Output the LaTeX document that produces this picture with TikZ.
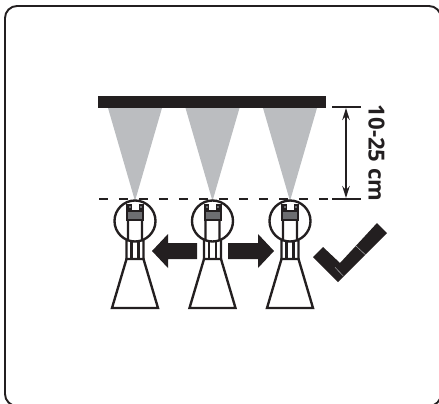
\documentclass[tikz,border=0pt]{standalone}
\usepackage{fontspec}
\setmainfont{Open Sans}
\usetikzlibrary{arrows.meta}
\definecolor{inkblack}{HTML}{231F20}
\definecolor{spraygray}{HTML}{BBBDC0}
\definecolor{capgray}{HTML}{6D6E71}
\begin{document}
\begin{tikzpicture}[
        x=0.02cm, y=-0.02cm,
        frameline/.style={draw=inkblack, line width=1.1pt, rounded corners=0.24cm},
        spray/.style={fill=spraygray},
        solidblack/.style={fill=inkblack},
        nozzleline/.style={draw=inkblack, line width=1.35pt},
        thinline/.style={draw=inkblack, line width=0.8pt},
        label/.style={font=\bfseries\fontsize{12.6}{14}\selectfont, text=inkblack, inner sep=0pt},
        dimarrow/.style={draw=inkblack, line width=0.8pt, {Stealth[length=0.24cm, width=0.15cm]}-{Stealth[length=0.24cm, width=0.15cm]}},
        nozzle/.pic={
            % Flask and stem
            \draw[nozzleline, line join=miter] (-8.5,259) -- (-23,308) -- (23,308) -- (8.5,259) -- cycle;
            \draw[nozzleline] (-8.5,259) -- (-8.5,241) -- (-7,239) -- (-7,220);
            \draw[nozzleline] (8.5,259) -- (8.5,241) -- (7,239) -- (7,220);
            \draw[nozzleline] (-3.6,259) -- (-3.6,240) (3.6,259) -- (3.6,240);
            % Head
            \draw[nozzleline] (0,221) circle[radius=20.5];
            \fill[solidblack] (-9,204) rectangle (9,221);
            \fill[white] (-3.5,203) rectangle (3.5,210);
            \fill[capgray] (-7,212) rectangle (7,218.5);
            \fill[capgray] (-6.5,206) rectangle (-4.5,208);
            \fill[capgray] (4.5,206) rectangle (6.5,208);
        },
    ]
        \useasboundingbox (0,0) rectangle (439,403);
        % Frame
        \draw[frameline] (5,6) rectangle (441,406);

        % Bar and spray
        \foreach \xc in {135,212.5,290} {
            \fill[spray] (\xc-27,108) -- (\xc+27,108) -- (\xc,201) -- cycle;
        }
        \fill[solidblack] (98,96) rectangle (326,108);

        % Dashed line
        \coordinate (dashl) at (99,199);
        \coordinate (dashr) at (331,199);
        \draw[thinline, dash pattern=on 0.18cm off 0.22cm] (dashl) -- (dashr);

        % Nozzles
        \foreach \xc/\name in {135/left,212.5/mid,290/right} {
            \pic (noz\name) at (\xc,0) {nozzle};
        }

        % Direction arrows
        \fill[solidblack] (197,243) -- (168,243) -- (168,234) -- (152,251) -- (168,268) -- (168,259) -- (197,259) -- cycle;
        \fill[solidblack] (228,243) -- (258,243) -- (258,234) -- (274,251) -- (258,268) -- (258,259) -- (228,259) -- cycle;

        % Check mark
        \fill[solidblack] (313,257) -- (323,247) -- (340,263) -- (377,223) -- (387,233) -- (338,282) -- cycle;
        \draw[spraygray, line width=0.25pt] (335,267.3) -- (343.3,276) (356,246) -- (365.7,255);

        % Dimension
        \coordinate (dimtopl) at (332,107);
        \coordinate (dimtopr) at (361,107);
        \coordinate (dimbotl) at (332,199);
        \coordinate (dimbotr) at (361,199);
        \draw[thinline] (dimtopl) -- (dimtopr);
        \draw[thinline] (dimbotl) -- (dimbotr);
        \draw[dimarrow] (346,108) -- (346,198);
        \node[label, rotate=-90] (dimtext) at (376.5,153) {10-25 cm};
    \end{tikzpicture}
\end{document}
